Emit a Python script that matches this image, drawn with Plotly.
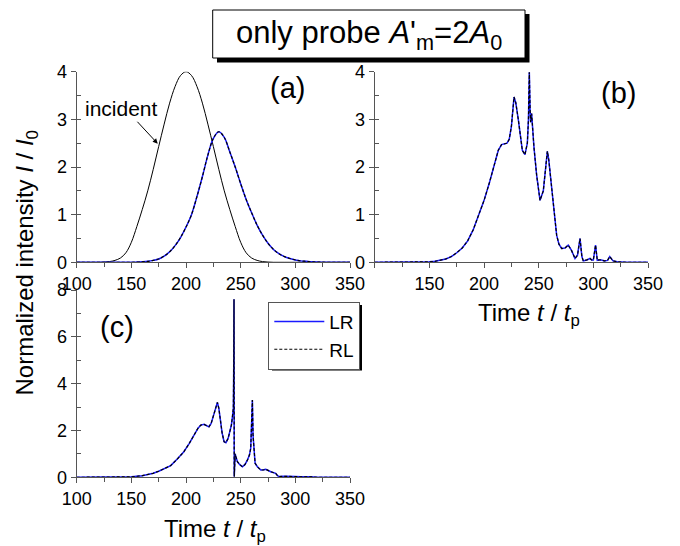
import plotly.graph_objects as go

# ---------------- data ----------------
# panel (a)
t_a = [100, 120, 125, 130, 135, 140, 145, 150, 155, 160, 165, 170, 175, 180, 185, 190, 195, 200,
       205, 210, 215, 220, 225, 230, 235, 240, 245, 250, 255, 260, 265, 270, 275, 280, 285, 290,
       295, 300, 305, 310, 315, 320, 330, 350]
incident_a = [0, 0, 0.005, 0.015, 0.04, 0.09, 0.2, 0.42, 0.75, 1.11, 1.5, 1.95, 2.43, 2.9, 3.34,
              3.69, 3.92, 4.0, 3.92, 3.69, 3.34, 2.9, 2.43, 1.95, 1.5, 1.11, 0.75, 0.42, 0.2,
              0.09, 0.04, 0.015, 0.005, 0, 0, 0, 0, 0, 0, 0, 0, 0, 0, 0]
lr_a = [0, 0, 0, 0, 0, 0, 0, 0, 0.005, 0.01, 0.02, 0.04, 0.07, 0.13, 0.22, 0.35, 0.52, 0.74,
        1.0, 1.38, 1.8, 2.25, 2.6, 2.74, 2.62, 2.32, 2.0, 1.65, 1.32, 1.04, 0.78, 0.57, 0.4,
        0.27, 0.18, 0.12, 0.08, 0.05, 0.03, 0.02, 0.01, 0.005, 0, 0]
rl_a = list(lr_a)

# panel (b)
t_b = [100, 140, 150, 155, 160, 165, 170, 175, 180, 185, 190, 195, 200, 205, 210, 213, 216, 219,
       221, 223, 225, 227.4, 229, 231.3, 233, 235, 237.4, 239.6, 240.6, 241.4, 242.1, 242.6,
       243.5, 244.4, 245.7, 248.1, 251.2, 254.2, 256.5, 257.9, 259.2, 260.3, 262, 263.4, 266.4,
       268.5, 271, 274, 277, 280, 283.2, 285.5, 287.8, 289.5, 290.8, 294, 296.9, 298.4, 300,
       302, 303.6, 305, 307.5, 310, 313, 315, 318, 322, 330, 350]
lr_b = [0, 0, 0.01, 0.02, 0.04, 0.07, 0.12, 0.2, 0.3, 0.45, 0.68, 0.98, 1.3, 1.68, 2.1, 2.35,
        2.47, 2.49, 2.5, 2.58, 2.85, 3.47, 3.35, 3.0, 2.65, 2.35, 2.26, 2.5, 3.0, 3.99, 3.2,
        2.94, 3.12, 2.8, 2.4, 1.83, 1.3, 1.5, 1.95, 2.33, 2.15, 1.9, 1.45, 1.13, 0.57, 0.38,
        0.29, 0.3, 0.36, 0.25, 0.08, 0.15, 0.5, 0.12, 0.03, 0.05, 0.08, 0.05, 0.05, 0.36, 0.04,
        0.05, 0.05, 0.03, 0.04, 0.12, 0.03, 0.01, 0, 0]
rl_b = list(lr_b)

# panel (c)
t_c = [100, 140, 150, 160, 170, 175, 180, 186, 192, 198, 203, 207.4, 211, 213.5, 216.5, 219,
       221, 223, 225, 227, 228.7, 230, 231.1, 233, 234.8, 236.5, 238.5, 240.5, 241.5, 242.5,
       243.3, 243.7, 243.9, 244.1, 244.6, 245.0, 245.5, 247, 249, 251.6, 254, 256.2, 258,
       259.2, 260.2, 260.7, 261.3, 262.3, 263.2, 265.3, 268.4, 271, 273, 277.5, 280, 282,
       283.5, 285, 290, 295, 300, 305, 310, 314, 320, 350]
lr_c = [0, 0, 0.02, 0.07, 0.17, 0.26, 0.36, 0.5, 0.78, 1.09, 1.45, 1.81, 2.1, 2.23, 2.26, 2.2,
        2.16, 2.3, 2.59, 2.95, 3.2, 2.95, 2.52, 1.9, 1.52, 1.48, 1.66, 2.0, 2.23, 2.6, 2.95, 5.0,
        7.6, 0.03, 0.6, 1.0, 0.9, 0.67, 0.55, 0.45, 0.55, 0.74, 0.95, 1.24, 2.3, 3.3, 1.8, 0.95,
        0.6, 0.45, 0.31, 0.32, 0.34, 0.24, 0.2, 0.17, 0.08, 0.03, 0.04, 0.02, 0.03, 0.02, 0.03,
        0.02, 0, 0]
rl_c = list(lr_c)

x_ticks = [100, 150, 200, 250, 300, 350]
x_ticktext_a = ["100", "150", "200", "250", "300", "350"]
x_ticktext_b = ["", "150", "200", "250", "300", "350"]
y_ticks_ab = [0, 1, 2, 3, 4]
y_ticks_c = [0, 2, 4, 6, 8]

# ---------------- figure ----------------
W, H = 680, 546
FONT = "Arial, Liberation Sans, sans-serif"
BLUE = "#1a1aff"
AX = "#555555"
LR_W = 1.5
RL_W = 1.2
RL_DASH = "3px,2px"


def px(x):
    return x / W


def py(y):
    return 1 - y / H


fig = go.Figure()

fig.add_trace(go.Scatter(x=t_a, y=incident_a, mode="lines", line=dict(color="black", width=1, shape="spline"),
                         xaxis="x", yaxis="y", showlegend=False))
fig.add_trace(go.Scatter(x=t_a, y=lr_a, mode="lines", line=dict(color=BLUE, width=LR_W, shape="spline"),
                         xaxis="x", yaxis="y", showlegend=False))
fig.add_trace(go.Scatter(x=t_a, y=rl_a, mode="lines",
                         line=dict(color="black", width=RL_W, dash=RL_DASH, shape="spline"),
                         xaxis="x", yaxis="y", showlegend=False))

fig.add_trace(go.Scatter(x=t_b, y=lr_b, mode="lines", line=dict(color=BLUE, width=LR_W),
                         xaxis="x2", yaxis="y2", showlegend=False))
fig.add_trace(go.Scatter(x=t_b, y=rl_b, mode="lines", line=dict(color="black", width=RL_W, dash=RL_DASH),
                         xaxis="x2", yaxis="y2", showlegend=False))

fig.add_trace(go.Scatter(x=t_c, y=lr_c, mode="lines", line=dict(color=BLUE, width=LR_W),
                         xaxis="x3", yaxis="y3", name="LR"))
fig.add_trace(go.Scatter(x=t_c, y=rl_c, mode="lines", line=dict(color="black", width=RL_W, dash=RL_DASH),
                         xaxis="x3", yaxis="y3", name="RL"))


def xax(domain, anchor, ticktext):
    return dict(domain=domain, anchor=anchor, range=[100, 350], tickmode="array",
                tickvals=x_ticks, ticktext=ticktext, ticks="outside", ticklen=5, tickcolor=AX,
                showline=True, linecolor=AX, linewidth=1.2, showgrid=False, zeroline=False,
                automargin=False,
                tickfont=dict(size=18, color="black", family=FONT),
                minor=dict(tickmode="array", tickvals=[125, 175, 225, 275, 325], ticks="outside",
                           ticklen=4, tickcolor=AX, showgrid=False))


def yax(domain, anchor, rng, tickvals, minorvals):
    return dict(domain=domain, anchor=anchor, range=rng, tickmode="array", tickvals=tickvals,
                ticks="outside", ticklen=5, tickcolor=AX, showline=True, linecolor=AX,
                linewidth=1.2, showgrid=False, zeroline=False, automargin=False,
                tickfont=dict(size=18, color="black", family=FONT),
                minor=dict(tickmode="array", tickvals=minorvals, ticks="inside", ticklen=4,
                           tickcolor=AX, showgrid=False))


xa_dom = [px(76.7), px(350)]
xb_dom = [px(374.8), px(648)]
ya_dom = [py(262.3), py(71.7)]
yc_dom = [py(477.3), py(290)]

fig.update_layout(
    width=W, height=H, margin=dict(l=0, r=0, t=0, b=0, pad=0, autoexpand=False),
    paper_bgcolor="white", plot_bgcolor="rgba(0,0,0,0)",
    font=dict(family=FONT, color="black"),
    xaxis=xax(xa_dom, "y", x_ticktext_a),
    yaxis=yax(ya_dom, "x", [0, 4], y_ticks_ab, [0.5, 1, 1.5, 2, 2.5, 3, 3.5]),
    xaxis2=xax(xb_dom, "y2", x_ticktext_b),
    yaxis2=yax(ya_dom, "x2", [0, 4], y_ticks_ab, [0.5, 1, 1.5, 2, 2.5, 3, 3.5]),
    xaxis3=xax(xa_dom, "y3", x_ticktext_a),
    yaxis3=yax(yc_dom, "x3", [0, 8], y_ticks_c, [1, 2, 3, 4, 5, 6, 7]),
    legend=dict(x=px(268.3), y=py(301.7), xanchor="left", yanchor="top",
                bgcolor="white", bordercolor=AX, borderwidth=1,
                font=dict(size=19, family=FONT, color="black"), tracegroupgap=0,
                itemwidth=50),
)

shapes = [
    # title box shadow + box
    dict(type="rect", xref="paper", yref="paper", x0=px(217), x1=px(529.5), y0=py(62.5), y1=py(14),
         fillcolor="black", line=dict(width=0), layer="above"),
    dict(type="rect", xref="paper", yref="paper", x0=px(212.7), x1=px(525), y0=py(58), y1=py(10),
         fillcolor="white", line=dict(color="black", width=1), layer="above"),
    # legend shadow
    dict(type="rect", xref="paper", yref="paper", x0=px(272), x1=px(362), y0=py(370.5), y1=py(305),
         fillcolor="black", line=dict(width=0), layer="below"),
]
fig.update_layout(shapes=shapes)


def note(text, x, y, size, **kw):
    d = dict(text=text, x=px(x), y=py(y), xref="paper", yref="paper", showarrow=False,
             font=dict(size=size, family=FONT, color="black"), xanchor="center", yanchor="middle")
    d.update(kw)
    return d


ann = [
    note("only probe <i>A</i>'<sub>m</sub>=2<i>A</i><sub>0</sub>", 369, 35, 31),
    note("(a)", 287, 88, 29),
    note("(b)", 618, 93, 29),
    note("(c)", 116.7, 327, 29),
    note("incident", 121.7, 108.7, 21),
    dict(text="", x=174.1, y=2.49, xref="x", yref="y", showarrow=True, ax=-21.7, ay=-23.4,
         axref="pixel", ayref="pixel", arrowhead=2, arrowsize=1, arrowwidth=1, arrowcolor="black"),
    note("Time <i>t</i> / <i>t</i><sub>p</sub>", 529, 314, 24),
    note("Time <i>t</i> / <i>t</i><sub>p</sub>", 215, 530, 24),
    note("Normalized intensity <i>I</i> / <i>I</i><sub>0</sub>", 26, 263.5, 24, textangle=-90),
]
fig.update_layout(annotations=ann)

fig.write_html("out.html", config={"displayModeBar": False},
               post_script="document.body.style.margin='0';document.body.style.padding='0';")
